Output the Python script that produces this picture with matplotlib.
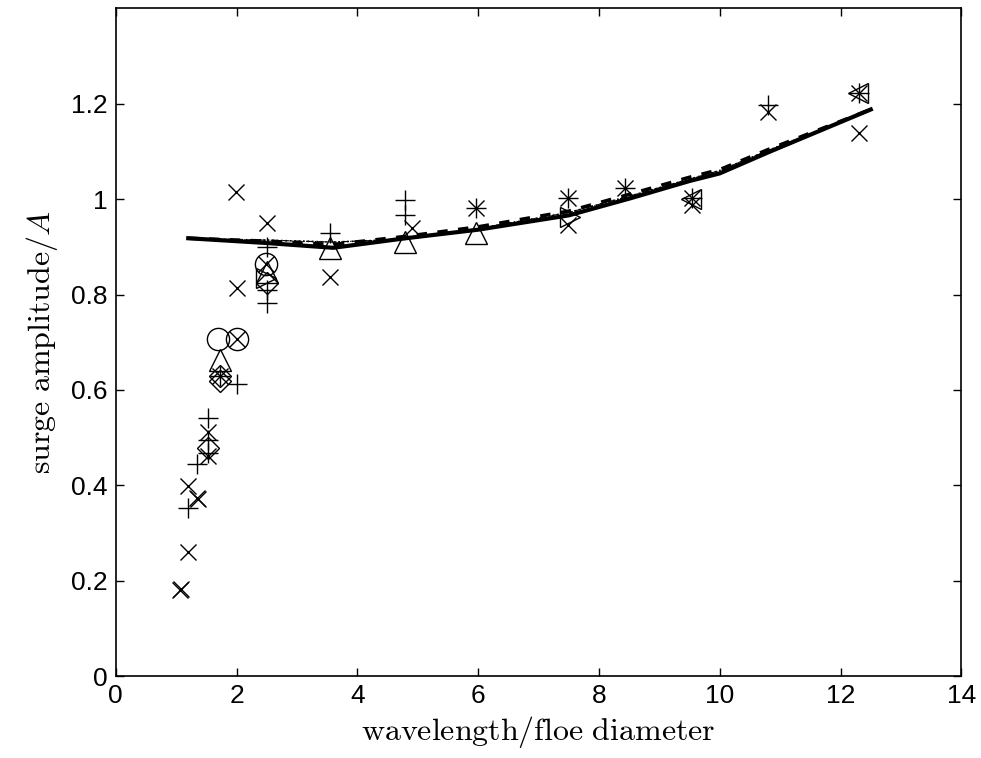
import numpy as np
import matplotlib
matplotlib.use('Agg')
import matplotlib.pyplot as plt

plt.rcParams['font.family'] = ['Liberation Sans', 'DejaVu Sans']
plt.rcParams['mathtext.fontset'] = 'cm'

# model curves
line_x = [1.2, 2.5, 3.6, 4.8, 6.0, 7.5, 8.5, 9.5, 10.0, 10.8, 12.5]
solid_y = [0.918, 0.908, 0.898, 0.918, 0.936, 0.966, 1.001, 1.038, 1.054, 1.098, 1.188]
dashed_y = [0.918, 0.912, 0.905, 0.922, 0.942, 0.975, 1.010, 1.046, 1.062, 1.104, 1.188]
dotted_y = [0.917, 0.914, 0.910, 0.916, 0.938, 0.972, 1.006, 1.042, 1.060, 1.102, 1.186]

# experimental points, grouped by marker
x_pts_x = [1.07, 1.08, 1.20, 1.20, 1.35, 1.36, 1.52, 1.52, 1.99, 2.00, 2.50, 2.00, 2.49,
           1.73, 3.55, 4.90, 5.97, 7.49, 7.49, 8.43, 9.54, 9.54, 12.31, 10.80, 12.31]
x_pts_y = [0.181, 0.183, 0.261, 0.399, 0.374, 0.371, 0.511, 0.462, 1.014, 0.813, 0.949, 0.707, 0.863,
           0.630, 0.837, 0.939, 0.981, 0.946, 1.002, 1.023, 0.988, 1.002, 1.139, 1.183, 1.222]

plus_x = [1.20, 1.34, 1.52, 1.52, 1.52, 2.00, 1.73, 2.50, 2.50, 3.54, 4.79, 4.79,
          5.97, 7.49, 8.43, 9.54, 10.80, 12.31, 2.50]
plus_y = [0.352, 0.444, 0.541, 0.495, 0.467, 0.613, 0.630, 0.809, 0.783, 0.930, 0.998, 0.967,
          0.981, 1.002, 1.023, 1.002, 1.198, 1.223, 0.900]

circ_x = [1.70, 2.00, 2.49]
circ_y = [0.707, 0.707, 0.863]

tri_x = [1.73, 2.50, 3.54, 4.79, 5.97]
tri_y = [0.662, 0.848, 0.897, 0.911, 0.928]

diam_x = [1.52, 1.73, 1.73, 2.50]
diam_y = [0.479, 0.630, 0.618, 0.825]

tri_r_x = [2.48, 7.52]
tri_r_y = [0.835, 0.962]

tri_l_x = [9.52, 12.29]
tri_l_y = [1.000, 1.222]

xticks = [0, 2, 4, 6, 8, 10, 12, 14]
yticks = [0, 0.2, 0.4, 0.6, 0.8, 1.0, 1.2]
ytick_labels = ['0', '0.2', '0.4', '0.6', '0.8', '1', '1.2']

fig = plt.figure(figsize=(9.81, 7.58), dpi=100)
ax = fig.add_axes([0.118, 0.108, 0.862, 0.881])

ax.plot(line_x, solid_y, 'k-', linewidth=3)
ax.plot(line_x, dashed_y, 'k--', linewidth=2.5, dashes=(3, 3))
ax.plot(line_x, dotted_y, 'k:', linewidth=1.2)
ax.plot(line_x, dotted_y, 'k-.', linewidth=0.8)

mk = dict(linestyle='none', color='k', markerfacecolor='none', markeredgewidth=1.0)
ax.plot(x_pts_x, x_pts_y, marker='x', markersize=12, **mk)
ax.plot(plus_x, plus_y, marker='+', markersize=15, **mk)
ax.plot(circ_x, circ_y, marker='o', markersize=16, **mk)
ax.plot(tri_x, tri_y, marker='^', markersize=16, **mk)
ax.plot(diam_x, diam_y, marker='D', markersize=11, **mk)
ax.plot(tri_r_x, tri_r_y, marker='>', markersize=14, **mk)
ax.plot(tri_l_x, tri_l_y, marker='<', markersize=14, **mk)

ax.set_xlim(0, 14)
ax.set_ylim(0, 1.4)
ax.set_xticks(xticks)
ax.set_yticks(yticks)
ax.set_yticklabels(ytick_labels)
ax.tick_params(direction='in', top=True, right=True, length=6, width=1, labelsize=19, pad=6)
for s in ax.spines.values():
    s.set_linewidth(1.2)

ax.set_xlabel(r'$\mathrm{wavelength/floe\ diameter}$', fontsize=23, labelpad=4)
ax.set_ylabel(r'$\mathrm{surge\ amplitude/}A$', fontsize=23, labelpad=8)

fig.savefig('out.png', dpi=100)
